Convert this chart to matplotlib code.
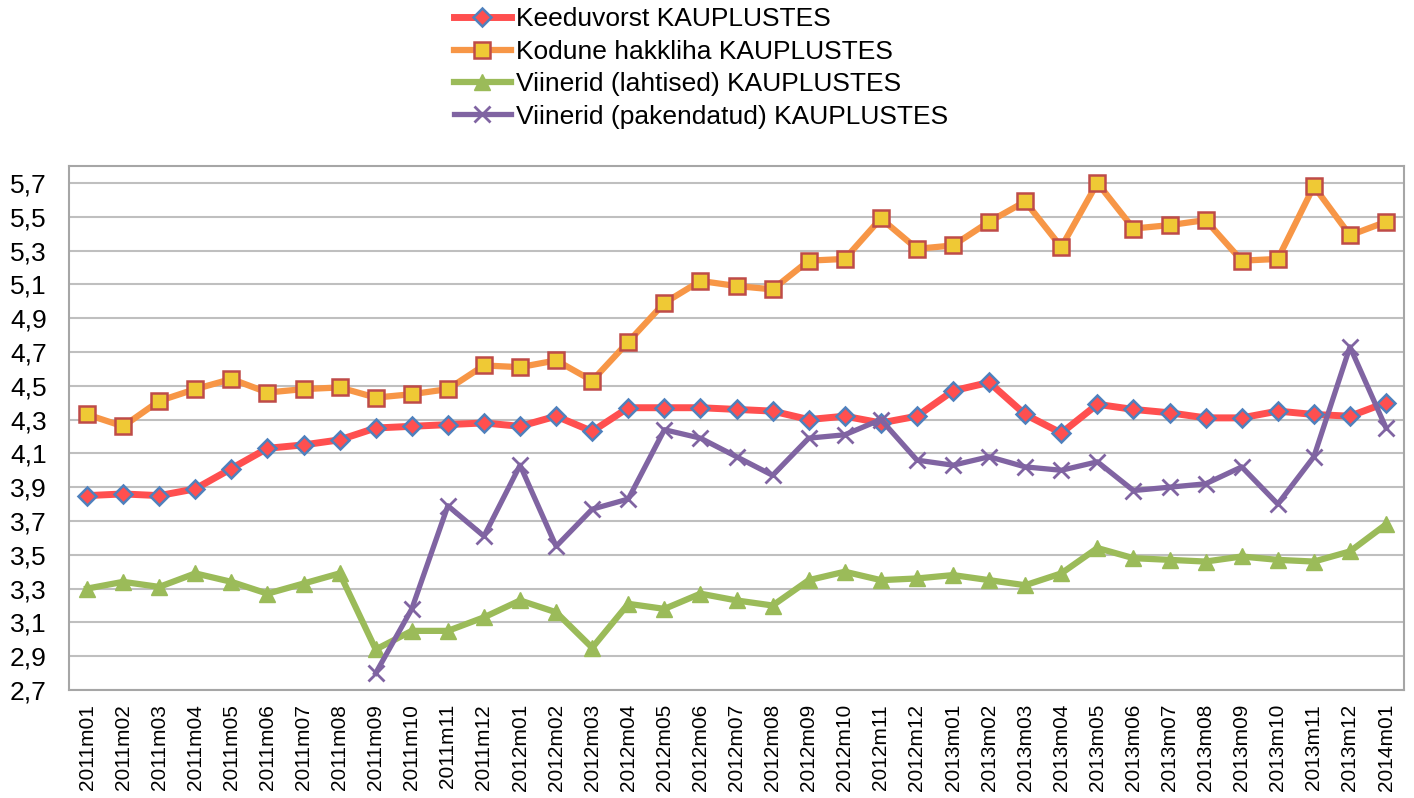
import numpy as np
import matplotlib.pyplot as plt

plt.rcParams['font.family'] = ['Liberation Sans', 'DejaVu Sans']

# Months 2011m01 .. 2014m01
months = []
for year in (2011, 2012, 2013):
    for m in range(1, 13):
        months.append(f'{year}m{m:02d}')
months.append('2014m01')

# Prices
keeduvorst = [3.85, 3.86, 3.85, 3.89, 4.01, 4.13, 4.15, 4.18, 4.25, 4.26, 4.27, 4.28,
              4.26, 4.32, 4.23, 4.37, 4.37, 4.37, 4.36, 4.35, 4.30, 4.32, 4.28, 4.32,
              4.47, 4.52, 4.33, 4.22, 4.39, 4.36, 4.34, 4.31, 4.31, 4.35, 4.33, 4.32,
              4.40]
hakkliha = [4.33, 4.26, 4.41, 4.48, 4.54, 4.46, 4.48, 4.49, 4.43, 4.45, 4.48, 4.62,
            4.61, 4.65, 4.53, 4.76, 4.99, 5.12, 5.09, 5.07, 5.24, 5.25, 5.49, 5.31,
            5.33, 5.47, 5.59, 5.32, 5.70, 5.43, 5.45, 5.48, 5.24, 5.25, 5.68, 5.39,
            5.47]
viin_lahtised = [3.30, 3.34, 3.31, 3.39, 3.34, 3.27, 3.33, 3.39, 2.94, 3.05, 3.05, 3.13,
                 3.23, 3.16, 2.95, 3.21, 3.18, 3.27, 3.23, 3.20, 3.35, 3.40, 3.35, 3.36,
                 3.38, 3.35, 3.32, 3.39, 3.54, 3.48, 3.47, 3.46, 3.49, 3.47, 3.46, 3.52,
                 3.68]
viin_pakendatud = [np.nan] * 8 + [2.80, 3.18, 3.79, 3.61,
                   4.03, 3.55, 3.77, 3.83, 4.24, 4.19, 4.08, 3.97, 4.19, 4.21, 4.30, 4.06,
                   4.03, 4.08, 4.02, 4.00, 4.05, 3.88, 3.90, 3.92, 4.02, 3.80, 4.08, 4.73,
                   4.25]

labels = ['Keeduvorst KAUPLUSTES', 'Kodune hakkliha KAUPLUSTES',
          'Viinerid (lahtised) KAUPLUSTES', 'Viinerid (pakendatud) KAUPLUSTES']

y_ticks = [2.7, 2.9, 3.1, 3.3, 3.5, 3.7, 3.9, 4.1, 4.3, 4.5, 4.7, 4.9, 5.1, 5.3, 5.5, 5.7]

fig = plt.figure(figsize=(14.14, 7.98), dpi=100)
ax = fig.add_axes([0.0488, 0.1353, 0.9442, 0.6567])

x = np.arange(len(months))
ax.plot(x, keeduvorst, color='#FF4F4F', lw=5, marker='D', ms=9,
        mfc='#FF4F4F', mec='#4F81BD', mew=1.8, label=labels[0])
ax.plot(x, hakkliha, color='#F79646', lw=4.5, marker='s', ms=12,
        mfc='#EFC935', mec='#BE4B48', mew=1.8, label=labels[1])
ax.plot(x, viin_lahtised, color='#9BBB59', lw=4.5, marker='^', ms=12,
        mfc='#9BBB59', mec='#9BBB59', label=labels[2])
ax.plot(x, viin_pakendatud, color='#8064A2', lw=3.8, marker='x', ms=12,
        mew=2, mec='#8064A2', label=labels[3])

ax.set_xlim(-0.5, len(months) - 0.5)
ax.set_ylim(2.7, 5.8)
ax.set_yticks(y_ticks)
ax.set_yticklabels([f'{v:.1f}'.replace('.', ',') for v in y_ticks], fontsize=19)
ax.set_xticks(x)
ax.set_xticklabels(months, rotation=90, fontsize=15)
ax.tick_params(axis='both', length=0)
ax.tick_params(axis='y', pad=16)
ax.tick_params(axis='x', pad=10)

ax.grid(axis='y', color='#BFBFBF', lw=1.5)
ax.set_axisbelow(True)
for s in ax.spines.values():
    s.set_color('#A6A6A6')
    s.set_linewidth(1.5)

fig.legend(loc='upper left', bbox_to_anchor=(0.3135, 1.004), frameon=False,
           fontsize=19, handlelength=2.15, handletextpad=0.2, labelspacing=0.32,
           borderaxespad=0)

fig.savefig('out.png', dpi=100)
